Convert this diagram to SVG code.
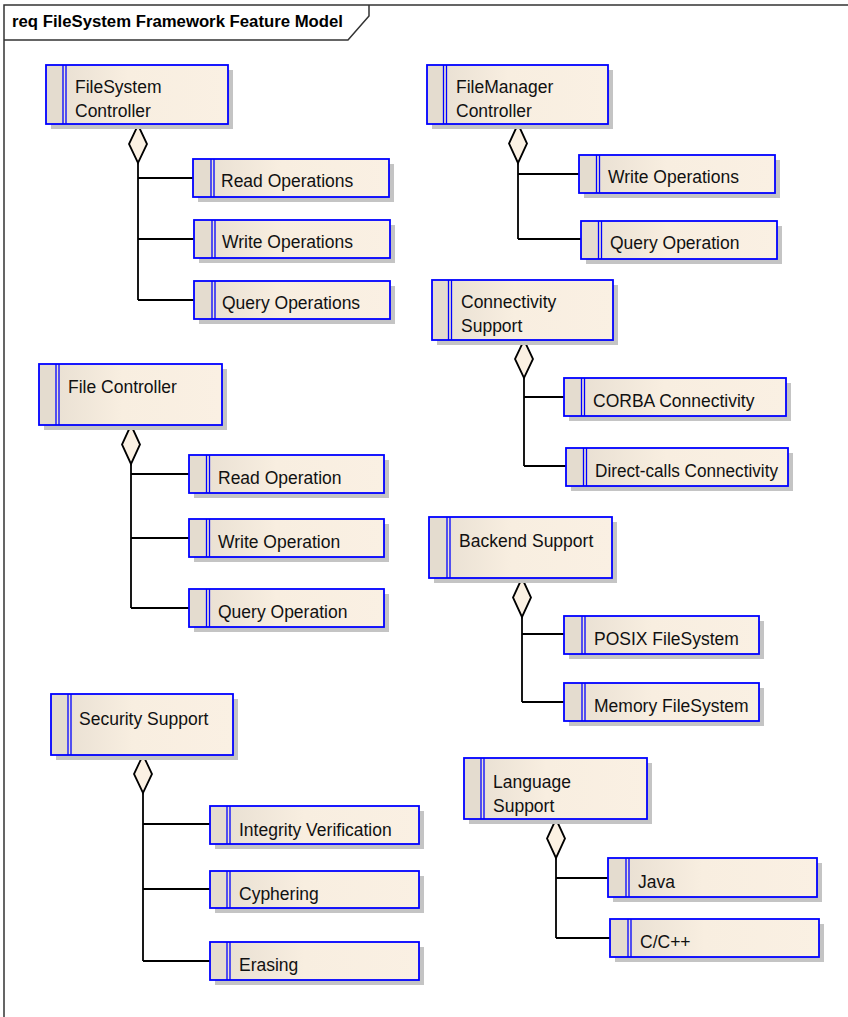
<svg xmlns="http://www.w3.org/2000/svg" width="848" height="1017" viewBox="0 0 848 1017">
<defs>
<linearGradient id="body" x1="0" y1="0" x2="1" y2="0">
<stop offset="0" stop-color="#e6ddd0"/>
<stop offset="0.45" stop-color="#f8eee0"/>
<stop offset="1" stop-color="#faf0e3"/>
</linearGradient>
</defs>
<style>
.shadow{fill:#c4c4c4}
.box{fill:url(#body);stroke:#0000ff;stroke-width:1.8}
.side{fill:#e4dccf}
.stripe{stroke:#0000ff;stroke-width:1.3;fill:none}
.lbl{font-family:"Liberation Sans",Arial,sans-serif;font-size:17.5px;fill:#111}
.title{font-family:"Liberation Sans",Arial,sans-serif;font-size:16px;font-weight:bold;fill:#000}
.conn{stroke:#000;stroke-width:1.8;fill:none}
.dia{fill:#fbf1e3;stroke:#000;stroke-width:1.8}
.frame{stroke:#333;stroke-width:1.5;fill:none}
</style>
<rect x="0" y="0" width="848" height="1017" fill="#fff"/>
<g id="frame">
<path class="frame" d="M4,1017 L4,5 L848,5"/>
<path class="frame" d="M4,40 L348,40 L369,16 L369,5"/>
<text class="title" x="12" y="27" textLength="331" lengthAdjust="spacingAndGlyphs">req FileSystem Framework Feature Model</text>
</g>

<g id="connectors">
<path class="conn" d="M138,163 V300 M138,178 H193 M138,239 H194 M138,300 H194"/>
<polygon class="dia" points="138,125 147,144 138,163 129,144"/>
<path class="conn" d="M518,163 V239 M518,174 H579 M518,239 H581"/>
<polygon class="dia" points="518,124 527,143.5 518,163 509,143.5"/>
<path class="conn" d="M524,378 V466 M524,397 H564 M524,466 H566"/>
<polygon class="dia" points="524,340 533,359 524,378 515,359"/>
<path class="conn" d="M131,464 V608 M131,474 H189 M131,538 H189 M131,608 H189"/>
<polygon class="dia" points="131,425 140,444.5 131,464 122,444.5"/>
<path class="conn" d="M522,617 V702 M522,634 H564 M522,702 H564"/>
<polygon class="dia" points="522,578 531,597.5 522,617 513,597.5"/>
<path class="conn" d="M143,793 V961 M143,824 H210 M143,889 H210 M143,961 H210"/>
<polygon class="dia" points="143,755 152,774 143,793 134,774"/>
<path class="conn" d="M556,858 V938 M556,878 H608 M556,938 H610"/>
<polygon class="dia" points="556,819 565,838.5 556,858 547,838.5"/>
</g>

<g id="n-fsc">
<rect class="shadow" x="51" y="70" width="182" height="59"/>
<rect class="box" x="46" y="65" width="182" height="59"/>
<rect class="side" x="47" y="66" width="15.5" height="57"/>
<path class="stripe" d="M63,65 V124 M66,65 V124"/>
<text class="lbl" x="75" y="93">FileSystem</text>
<text class="lbl" x="75" y="117">Controller</text>
</g>
<g id="n-fsc-read">
<rect class="shadow" x="198" y="164" width="196" height="38"/>
<rect class="box" x="193" y="159" width="196" height="38"/>
<rect class="side" x="194" y="160" width="16.5" height="36"/>
<path class="stripe" d="M211,159 V197 M214,159 V197"/>
<text class="lbl" x="221" y="187">Read Operations</text>
</g>
<g id="n-fsc-write">
<rect class="shadow" x="199" y="225" width="196" height="38"/>
<rect class="box" x="194" y="220" width="196" height="38"/>
<rect class="side" x="195" y="221" width="16.5" height="36"/>
<path class="stripe" d="M212,220 V258 M215,220 V258"/>
<text class="lbl" x="222" y="248">Write Operations</text>
</g>
<g id="n-fsc-query">
<rect class="shadow" x="199" y="286" width="196" height="38"/>
<rect class="box" x="194" y="281" width="196" height="38"/>
<rect class="side" x="195" y="282" width="16.5" height="36"/>
<path class="stripe" d="M212,281 V319 M215,281 V319"/>
<text class="lbl" x="222" y="309">Query Operations</text>
</g>

<g id="n-fmc">
<rect class="shadow" x="432" y="70" width="181" height="59"/>
<rect class="box" x="427" y="65" width="181" height="59"/>
<rect class="side" x="428" y="66" width="15" height="57"/>
<path class="stripe" d="M443.5,65 V124 M446.5,65 V124"/>
<text class="lbl" x="456" y="93">FileManager</text>
<text class="lbl" x="456" y="117">Controller</text>
</g>
<g id="n-fmc-write">
<rect class="shadow" x="584" y="160" width="196" height="38"/>
<rect class="box" x="579" y="155" width="196" height="38"/>
<rect class="side" x="580" y="156" width="16" height="36"/>
<path class="stripe" d="M596.5,155 V193 M599.5,155 V193"/>
<text class="lbl" x="608" y="183">Write Operations</text>
</g>
<g id="n-fmc-query">
<rect class="shadow" x="586" y="226" width="196" height="38"/>
<rect class="box" x="581" y="221" width="196" height="38"/>
<rect class="side" x="582" y="222" width="16" height="36"/>
<path class="stripe" d="M598.5,221 V259 M601.5,221 V259"/>
<text class="lbl" x="610" y="249">Query Operation</text>
</g>

<g id="n-cs">
<rect class="shadow" x="437" y="285" width="181" height="60"/>
<rect class="box" x="432" y="280" width="181" height="60"/>
<rect class="side" x="433" y="281" width="15" height="58"/>
<path class="stripe" d="M448.5,280 V340 M451.5,280 V340"/>
<text class="lbl" x="461" y="308">Connectivity</text>
<text class="lbl" x="461" y="332">Support</text>
</g>
<g id="n-cs-corba">
<rect class="shadow" x="569" y="383" width="222" height="38"/>
<rect class="box" x="564" y="378" width="222" height="38"/>
<rect class="side" x="565" y="379" width="16" height="36"/>
<path class="stripe" d="M581.5,378 V416 M584.5,378 V416"/>
<text class="lbl" x="593" y="407">CORBA Connectivity</text>
</g>
<g id="n-cs-direct">
<rect class="shadow" x="571" y="453" width="222" height="38"/>
<rect class="box" x="566" y="448" width="222" height="38"/>
<rect class="side" x="567" y="449" width="16" height="36"/>
<path class="stripe" d="M583.5,448 V486 M586.5,448 V486"/>
<text class="lbl" x="595" y="477" textLength="183" lengthAdjust="spacingAndGlyphs">Direct-calls Connectivity</text>
</g>

<g id="n-fc">
<rect class="shadow" x="44" y="369" width="183" height="61"/>
<rect class="box" x="39" y="364" width="183" height="61"/>
<rect class="side" x="40" y="365" width="15.5" height="59"/>
<path class="stripe" d="M56,364 V425 M59,364 V425"/>
<text class="lbl" x="68" y="393">File Controller</text>
</g>
<g id="n-fc-read">
<rect class="shadow" x="194" y="460" width="195" height="38"/>
<rect class="box" x="189" y="455" width="195" height="38"/>
<rect class="side" x="190" y="456" width="16" height="36"/>
<path class="stripe" d="M206.5,455 V493 M209.5,455 V493"/>
<text class="lbl" x="218" y="484">Read Operation</text>
</g>
<g id="n-fc-write">
<rect class="shadow" x="194" y="524" width="195" height="38"/>
<rect class="box" x="189" y="519" width="195" height="38"/>
<rect class="side" x="190" y="520" width="16" height="36"/>
<path class="stripe" d="M206.5,519 V557 M209.5,519 V557"/>
<text class="lbl" x="218" y="548">Write Operation</text>
</g>
<g id="n-fc-query">
<rect class="shadow" x="194" y="594" width="195" height="38"/>
<rect class="box" x="189" y="589" width="195" height="38"/>
<rect class="side" x="190" y="590" width="16" height="36"/>
<path class="stripe" d="M206.5,589 V627 M209.5,589 V627"/>
<text class="lbl" x="218" y="618">Query Operation</text>
</g>

<g id="n-bs">
<rect class="shadow" x="434" y="522" width="183" height="61"/>
<rect class="box" x="429" y="517" width="183" height="61"/>
<rect class="side" x="430" y="518" width="16.5" height="59"/>
<path class="stripe" d="M447,517 V578 M450,517 V578"/>
<text class="lbl" x="459" y="547">Backend Support</text>
</g>
<g id="n-bs-posix">
<rect class="shadow" x="569" y="621" width="195" height="38"/>
<rect class="box" x="564" y="616" width="195" height="38"/>
<rect class="side" x="565" y="617" width="16.5" height="36"/>
<path class="stripe" d="M582,616 V654 M585,616 V654"/>
<text class="lbl" x="594" y="645">POSIX FileSystem</text>
</g>
<g id="n-bs-memory">
<rect class="shadow" x="569" y="688" width="195" height="38"/>
<rect class="box" x="564" y="683" width="195" height="38"/>
<rect class="side" x="565" y="684" width="16.5" height="36"/>
<path class="stripe" d="M582,683 V721 M585,683 V721"/>
<text class="lbl" x="594" y="712">Memory FileSystem</text>
</g>

<g id="n-ss">
<rect class="shadow" x="56" y="699" width="182" height="61"/>
<rect class="box" x="51" y="694" width="182" height="61"/>
<rect class="side" x="52" y="695" width="15.5" height="59"/>
<path class="stripe" d="M68,694 V755 M71,694 V755"/>
<text class="lbl" x="79" y="725">Security Support</text>
</g>
<g id="n-ss-integrity">
<rect class="shadow" x="215" y="811" width="209" height="38"/>
<rect class="box" x="210" y="806" width="209" height="38"/>
<rect class="side" x="211" y="807" width="15.5" height="36"/>
<path class="stripe" d="M227,806 V844 M230,806 V844"/>
<text class="lbl" x="239" y="836">Integrity Verification</text>
</g>
<g id="n-ss-cyphering">
<rect class="shadow" x="215" y="876" width="209" height="37"/>
<rect class="box" x="210" y="871" width="209" height="37"/>
<rect class="side" x="211" y="872" width="15.5" height="35"/>
<path class="stripe" d="M227,871 V908 M230,871 V908"/>
<text class="lbl" x="239" y="900">Cyphering</text>
</g>
<g id="n-ss-erasing">
<rect class="shadow" x="215" y="947" width="209" height="38"/>
<rect class="box" x="210" y="942" width="209" height="38"/>
<rect class="side" x="211" y="943" width="15.5" height="36"/>
<path class="stripe" d="M227,942 V980 M230,942 V980"/>
<text class="lbl" x="239" y="971">Erasing</text>
</g>

<g id="n-ls">
<rect class="shadow" x="469" y="763" width="183" height="61"/>
<rect class="box" x="464" y="758" width="183" height="61"/>
<rect class="side" x="465" y="759" width="15.5" height="59"/>
<path class="stripe" d="M481,758 V819 M484,758 V819"/>
<text class="lbl" x="493" y="788">Language</text>
<text class="lbl" x="493" y="812">Support</text>
</g>
<g id="n-ls-java">
<rect class="shadow" x="613" y="863" width="209" height="39"/>
<rect class="box" x="608" y="858" width="209" height="39"/>
<rect class="side" x="609" y="859" width="16.5" height="37"/>
<path class="stripe" d="M626,858 V897 M629,858 V897"/>
<text class="lbl" x="638" y="888">Java</text>
</g>
<g id="n-ls-cpp">
<rect class="shadow" x="615" y="924" width="209" height="38"/>
<rect class="box" x="610" y="919" width="209" height="38"/>
<rect class="side" x="611" y="920" width="16.5" height="36"/>
<path class="stripe" d="M628,919 V957 M631,919 V957"/>
<text class="lbl" x="640" y="948">C/C++</text>
</g>
</svg>
